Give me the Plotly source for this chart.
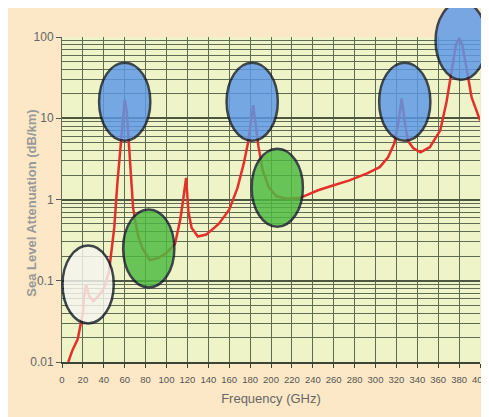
import plotly.graph_objects as go
import math

# ---- data ----
freq_ghz = [6, 10, 15, 20, 21, 23, 26, 30, 35, 40,
            45, 50, 53, 56, 58, 60, 62, 64, 66, 68,
            70, 73, 77, 84, 92, 100, 108, 113, 116, 118.75,
            121, 124, 130, 138, 150, 160, 168, 174, 178, 181,
            183, 185, 188, 192, 198, 205, 215, 228, 245, 260,
            275, 292, 304, 312, 318, 322, 325, 328, 331, 336,
            343, 352, 362, 368, 373, 377, 380, 383, 387, 392,
            400]
atten_db_km = [0.01, 0.014, 0.019, 0.04, 0.06, 0.09, 0.065, 0.056, 0.065, 0.08,
               0.13, 0.45, 1.6, 4.5, 9, 17, 12, 5, 1.6, 0.8,
               0.55, 0.35, 0.25, 0.18, 0.19, 0.22, 0.28, 0.55, 1.0, 1.85,
               0.7, 0.45, 0.35, 0.37, 0.5, 0.75, 1.4, 2.8, 5, 10,
               14.5, 9, 4.5, 2.3, 1.4, 1.1, 1.02, 1.05, 1.3, 1.5,
               1.72, 2.1, 2.5, 3.3, 4.9, 9, 17.5, 9, 5.3, 4.3,
               3.8, 4.4, 7.1, 16, 42, 80, 97, 80, 42, 18,
               9.4]

x_ticks = list(range(0, 401, 20))
y_tick_vals = [0.01, 0.1, 1, 10, 100]
y_tick_text = ["0.01", "0.1", "1", "10", "100"]

# highlighted regions: (center GHz, center dB/km, kind)
highlight_freq = [25, 60, 83, 182, 206, 328, 382]
highlight_val = [0.09, 16, 0.25, 16, 1.4, 16, 90]
highlight_kind = ["white", "blue", "green", "blue", "green", "blue", "blue"]

X_RANGE = [0, 400]
Y_RANGE = [-2, 2]
HALF_W_GHZ = 24.5
HALF_H_DEC = 0.48

fills = {"blue": "#5b98ea", "green": "#4cba40", "white": "#f6f6f0"}

fig = go.Figure()
fig.add_trace(go.Scatter(
    x=freq_ghz, y=atten_db_km, mode="lines",
    line=dict(color="#e3302a", width=2.5),
    hoverinfo="skip", showlegend=False,
))


def px(f):
    return (f - X_RANGE[0]) / (X_RANGE[1] - X_RANGE[0])


def py(v):
    return (math.log10(v) - Y_RANGE[0]) / (Y_RANGE[1] - Y_RANGE[0])


shapes = []
for f, v, k in zip(highlight_freq, highlight_val, highlight_kind):
    cx, cy = px(f), py(v)
    hw = HALF_W_GHZ / (X_RANGE[1] - X_RANGE[0])
    hh = HALF_H_DEC / (Y_RANGE[1] - Y_RANGE[0])
    shapes.append(dict(type="circle", xref="paper", yref="paper",
                       x0=cx - hw, x1=cx + hw, y0=cy - hh, y1=cy + hh,
                       fillcolor=fills[k], opacity=0.82,
                       line=dict(color="#17202e", width=2.5), layer="above"))

font_family = "Liberation Sans, Arial, sans-serif"

fig.update_layout(
    width=481, height=409,
    margin=dict(l=54, r=9, t=29, b=55),
    paper_bgcolor="#fce8c6",
    plot_bgcolor="#eef3c8",
    shapes=shapes,
    showlegend=False,
    annotations=[dict(
        text="<b>Sea Level Attenuation (dB/km)</b>", textangle=-90,
        xref="paper", yref="paper", x=-0.072, y=0.49,
        xanchor="center", yanchor="middle", showarrow=False,
        font=dict(family=font_family, size=13, color="#999999"),
    )],
    xaxis=dict(
        range=X_RANGE, tickvals=x_ticks, ticktext=[str(t) for t in x_ticks],
        automargin=False,
        showgrid=True, gridcolor="#5e6b50", gridwidth=1.3,
        showline=True, linecolor="#3b4435", linewidth=1.5,
        ticks="outside", ticklen=4, tickcolor="#3b4435",
        ticklabelstandoff=4, ticklabeloverflow="allow",
        tickfont=dict(family=font_family, size=9.5, color="#555555"),
        title=dict(text="Frequency (GHz)", standoff=10,
                   font=dict(family=font_family, size=13, color="#666666")),
        zeroline=False, fixedrange=True,
    ),
    yaxis=dict(
        type="log", range=Y_RANGE,
        automargin=False,
        tickvals=y_tick_vals, ticktext=y_tick_text,
        showgrid=True, gridcolor="#4b573f", gridwidth=1.6,
        minor=dict(showgrid=True, dtick="D1", gridcolor="#5f6c53", gridwidth=1.1, ticks=""),
        showline=True, linecolor="#5e6b50", linewidth=1,
        ticks="outside", ticklen=5, tickcolor="#555555",
        tickfont=dict(family=font_family, size=12, color="#666666"),
        zeroline=False, fixedrange=True,
    ),
)

fig.write_html("out.html")
